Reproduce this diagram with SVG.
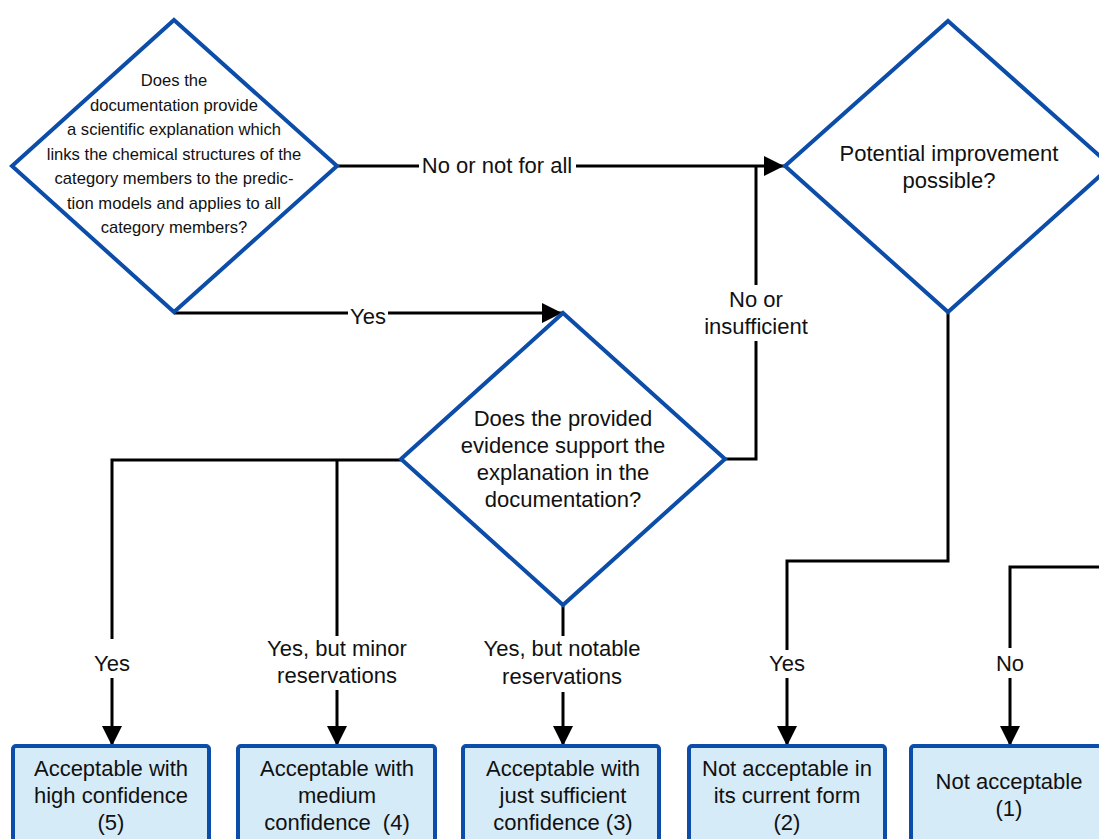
<svg xmlns="http://www.w3.org/2000/svg" width="1099" height="839" viewBox="0 0 1099 839">
<style>
.dia{fill:#fff;stroke:#0B4DA8;stroke-width:4;stroke-linejoin:miter}
.box{fill:#D6EBF8;stroke:#0B4DA8;stroke-width:4}
.ln{fill:none;stroke:#000;stroke-width:3}
.t{font-family:"Liberation Sans",Arial,sans-serif;font-size:22px;fill:#111;text-anchor:middle}
.s{font-family:"Liberation Sans",Arial,sans-serif;font-size:16.6px;fill:#111;text-anchor:middle}
.bg{fill:#fff}
</style>
<defs>
<marker id="arr" viewBox="0 0 10 10" refX="10" refY="5" markerWidth="20" markerHeight="20" markerUnits="userSpaceOnUse" orient="auto">
<path d="M0,0 L10,5 L0,10 z" fill="#000"/>
</marker>
</defs>
<rect width="1099" height="839" fill="#fff"/>
<g id="connectors">
<path class="ln" d="M337,166 H784" marker-end="url(#arr)"/>
<path class="ln" d="M174,313 H562" marker-end="url(#arr)"/>
<path class="ln" d="M725,459 H756 V166"/>
<path class="ln" d="M401,460 H112 V746" marker-end="url(#arr)"/>
<path class="ln" d="M337,460 V746" marker-end="url(#arr)"/>
<path class="ln" d="M563,605 V746" marker-end="url(#arr)"/>
<path class="ln" d="M948,312 V561 H787 V746" marker-end="url(#arr)"/>
<path class="ln" d="M1112,567 H1010 V746" marker-end="url(#arr)"/>
<rect class="bg" x="419" y="152" width="157" height="28"/>
<text class="t" x="497" y="173">No or not for all</text>
<rect class="bg" x="348" y="302" width="40" height="26"/>
<text class="t" x="368" y="324">Yes</text>
<rect class="bg" x="700" y="285" width="112" height="56"/>
<text class="t" x="756" y="307">No or</text>
<text class="t" x="756" y="334">insufficient</text>
<rect class="bg" x="92" y="639" width="40" height="39"/>
<text class="t" x="112" y="671">Yes</text>
<rect class="bg" x="262" y="636" width="150" height="54"/>
<text class="t" x="337" y="656">Yes, but minor</text>
<text class="t" x="337" y="683">reservations</text>
<rect class="bg" x="478" y="636" width="168" height="56"/>
<text class="t" x="562" y="656">Yes, but notable</text>
<text class="t" x="562" y="684">reservations</text>
<rect class="bg" x="767" y="650" width="40" height="28"/>
<text class="t" x="787" y="671">Yes</text>
<rect class="bg" x="995" y="648" width="30" height="30"/>
<text class="t" x="1010" y="671">No</text>
</g>
<g id="q1">
<polygon class="dia" points="174,20 337,166 174,312 12,166"/>
<text class="s" x="174" y="86">Does the</text>
<text class="s" x="174" y="110.5">documentation provide</text>
<text class="s" x="174" y="135">a scientific explanation which</text>
<text class="s" x="174" y="159.5">links the chemical structures of the</text>
<text class="s" x="174" y="184">category members to the predic-</text>
<text class="s" x="174" y="208.5">tion models and applies to all</text>
<text class="s" x="174" y="233">category members?</text>
</g>
<g id="q2">
<polygon class="dia" points="948,21 1111,166 948,312 785,166"/>
<text class="t" x="949" y="161">Potential improvement</text>
<text class="t" x="949" y="188">possible?</text>
</g>
<g id="q3">
<polygon class="dia" points="563,313 725,459 563,605 401,459"/>
<text class="t" x="563" y="426">Does the provided</text>
<text class="t" x="563" y="453">evidence support the</text>
<text class="t" x="563" y="480">explanation in the</text>
<text class="t" x="563" y="507">documentation?</text>
</g>
<g id="r5">
<rect class="box" x="13" y="746" width="196" height="110" rx="3"/>
<text class="t" x="111" y="776">Acceptable with</text>
<text class="t" x="111" y="803">high confidence</text>
<text class="t" x="111" y="830">(5)</text>
</g>
<g id="r4">
<rect class="box" x="238" y="746" width="197" height="110" rx="3"/>
<text class="t" x="337" y="776">Acceptable with</text>
<text class="t" x="337" y="803">medium</text>
<text class="t" x="337" y="830" xml:space="preserve">confidence  (4)</text>
</g>
<g id="r3">
<rect class="box" x="463" y="746" width="196" height="110" rx="3"/>
<text class="t" x="563" y="776">Acceptable with</text>
<text class="t" x="563" y="803">just sufficient</text>
<text class="t" x="563" y="830">confidence (3)</text>
</g>
<g id="r2">
<rect class="box" x="689" y="746" width="196" height="110" rx="3"/>
<text class="t" x="787" y="776">Not acceptable in</text>
<text class="t" x="787" y="803">its current form</text>
<text class="t" x="787" y="830">(2)</text>
</g>
<g id="r1">
<rect class="box" x="911" y="746" width="196" height="110" rx="3"/>
<text class="t" x="1009" y="789">Not acceptable</text>
<text class="t" x="1009" y="816">(1)</text>
</g>
</svg>
